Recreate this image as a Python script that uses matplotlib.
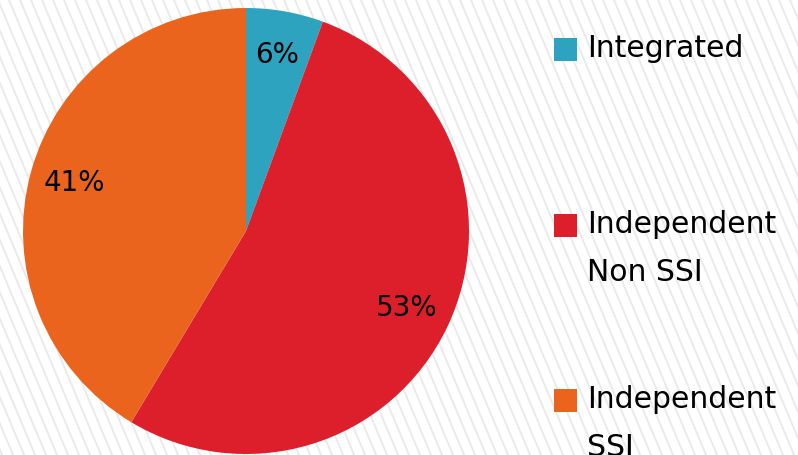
import numpy as np
import matplotlib.pyplot as plt
from matplotlib.patches import Rectangle

# Data
labels = ["Integrated", "Independent\nNon SSI", "Independent\nSSI"]
shares = [5.6, 53.0, 41.4]
colors = ["#2ea3c0", "#dc1f2b", "#ea641e"]

W, H = 798, 455
fig = plt.figure(figsize=[W / 100, H / 100], dpi=100)
fig.patch.set_facecolor("white")

# Background stripes (pixel coordinates)
bg = fig.add_axes([0, 0, 1, 1])
bg.set_xlim(0, W)
bg.set_ylim(H, 0)
bg.axis("off")
slope = 0.42
for c in np.arange(-200, W + 20, 11):
    bg.plot([c, c + slope * H], [0, H], color="#e9e9e9", lw=1.3, zorder=0)

# Pie
cx, cy, r = 246, 231, 223
ax = fig.add_axes([(cx - r) / W, (H - cy - r) / H, 2 * r / W, 2 * r / H])
wedges, texts, autotexts = ax.pie(shares, colors=colors, startangle=90, counterclock=False,
                                  radius=1, autopct="%.0f%%", pctdistance=0.8,
                                  wedgeprops={"linewidth": 0},
                                  textprops={"fontsize": 20, "color": "black"})
ax.set_xlim(-1, 1)
ax.set_ylim(-1, 1)
ax.set_aspect("equal")
ax.axis("off")

# Legend (manual)
baselines = [57, 233, 408]
for lab, col, yb in zip(labels, colors, baselines):
    bg.add_patch(Rectangle((554, yb - 19), 23, 23, facecolor=col, edgecolor="none"))
    for i, line in enumerate(lab.split("\n")):
        bg.text(587, yb + i * 48, line, fontsize=21.5, va="baseline", ha="left")

fig.savefig("out.png", dpi=100)
